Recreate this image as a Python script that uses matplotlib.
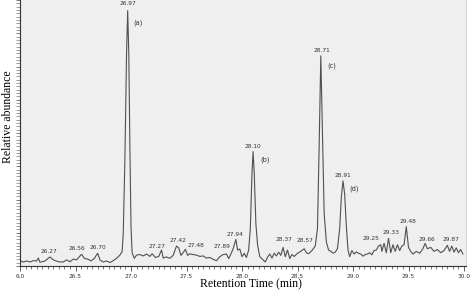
import matplotlib
matplotlib.use("Agg")
import matplotlib.pyplot as plt
from matplotlib.ticker import MultipleLocator, FixedLocator

# ---- data ----
time_min = [
    26.00, 26.03, 26.06, 26.09, 26.12, 26.15, 26.165, 26.18, 26.225, 26.27,
    26.30, 26.345, 26.39, 26.42, 26.45, 26.48, 26.51, 26.53, 26.555, 26.58,
    26.61, 26.64, 26.67, 26.70, 26.72, 26.75, 26.78, 26.81, 26.84, 26.87,
    26.90, 26.92, 26.93, 26.945, 26.96, 26.97, 26.98, 26.99, 27.00, 27.01,
    27.03, 27.05, 27.08, 27.11, 27.14, 27.17, 27.19, 27.22, 27.25, 27.275,
    27.29, 27.32, 27.35, 27.38, 27.41, 27.43, 27.45, 27.47, 27.49, 27.51,
    27.53, 27.56, 27.59, 27.62, 27.65, 27.68, 27.71, 27.74, 27.77, 27.80,
    27.83, 27.86, 27.88, 27.90, 27.92, 27.945, 27.96, 27.98, 28.00, 28.02,
    28.04, 28.06, 28.075, 28.09, 28.10, 28.11, 28.125, 28.14, 28.16, 28.19,
    28.21, 28.23, 28.25, 28.27, 28.29, 28.31, 28.33, 28.35, 28.37, 28.39,
    28.41, 28.43, 28.45, 28.47, 28.50, 28.53, 28.56, 28.58, 28.60, 28.63,
    28.66, 28.68, 28.695, 28.71, 28.725, 28.74, 28.76, 28.78, 28.80, 28.82,
    28.84, 28.86, 28.88, 28.895, 28.91, 28.925, 28.94, 28.955, 28.97, 28.99,
    29.01, 29.03, 29.05, 29.07, 29.09, 29.11, 29.13, 29.15, 29.17, 29.19,
    29.21, 29.23, 29.25, 29.26, 29.28, 29.30, 29.32, 29.34, 29.36, 29.38,
    29.40, 29.42, 29.44, 29.46, 29.48, 29.50, 29.52, 29.54, 29.57, 29.60,
    29.63, 29.65, 29.67, 29.70, 29.73, 29.76, 29.79, 29.82, 29.85, 29.87,
    29.89, 29.91, 29.93, 29.95, 29.97, 29.99,
]
abundance = [
    2.0, 1.5, 1.9, 1.5, 2.0, 1.9, 3.0, 1.4, 1.9, 3.4,
    2.3, 1.6, 1.5, 2.3, 1.6, 2.6, 2.3, 3.3, 4.4, 2.8,
    2.6, 1.9, 2.9, 4.8, 2.3, 1.5, 1.9, 1.3, 2.0, 2.9,
    4.1, 5.4, 12.0, 40.0, 80.0, 96.0, 80.0, 45.0, 15.0, 5.0,
    2.9, 4.1, 4.3, 3.8, 4.5, 3.6, 4.6, 3.2, 3.6, 6.0,
    3.0, 3.4, 2.9, 4.0, 7.5, 6.8, 4.0, 5.0, 6.3, 4.0,
    4.6, 4.3, 4.1, 3.6, 3.8, 3.0, 3.2, 2.5, 2.0, 3.5,
    4.3, 4.5, 2.8, 4.5, 6.5, 10.0, 6.0, 6.4, 3.5, 4.8,
    3.2, 6.0, 14.0, 35.0, 43.0, 35.0, 16.0, 8.0, 3.5, 2.3,
    1.5, 3.3, 4.5, 3.0, 4.8, 3.8, 5.2, 4.0, 7.0, 3.5,
    6.0, 2.8, 4.3, 3.6, 4.8, 5.5, 6.5, 5.0, 4.6, 5.8,
    7.5, 14.0, 45.0, 79.0, 50.0, 20.0, 9.0, 6.0, 5.5, 4.8,
    5.2, 6.5, 14.0, 26.0, 32.0, 27.0, 15.0, 6.0, 3.5, 5.8,
    4.5, 5.3, 4.8, 4.5, 3.7, 4.3, 4.5, 5.0, 4.2, 5.8,
    6.0, 7.5, 8.0, 5.5, 8.5, 5.0, 10.4, 5.0, 8.0, 5.5,
    8.0, 5.8, 7.5, 8.0, 14.8, 7.0, 5.5, 4.5, 5.5, 4.8,
    6.5, 8.5, 6.5, 7.0, 5.5, 6.2, 5.0, 5.8, 7.8, 5.5,
    7.5, 5.2, 6.8, 5.0, 6.2, 4.5,
]

# retention-time labels: text, anchor time, anchor abundance
rt_labels = ["26.97", "28.10", "28.71", "28.91", "26.27", "26.56", "26.70",
             "27.27", "27.42", "27.48", "27.89", "27.94", "28.37", "28.57",
             "29.25", "29.33", "29.48", "29.66", "29.87"]
rt_label_t = [26.973, 28.10, 28.72, 28.91, 26.26, 26.51, 26.70,
              27.23, 27.42, 27.59, 27.82, 27.94, 28.38, 28.57,
              29.16, 29.34, 29.50, 29.67, 29.88]
rt_label_y = [98.5, 45.1, 81.2, 34.2, 5.4, 6.4, 6.9,
              7.3, 9.5, 7.6, 7.3, 12.0, 9.8, 9.5,
              10.4, 12.5, 16.7, 10.0, 9.8]

# compound letters
compound_labels = ["(a)", "(b)", "(c)", "(d)"]
compound_t = [27.063, 28.207, 28.808, 29.006]
compound_y = [91.6, 39.8, 75.3, 29.2]

x_ticks = [26.0, 26.5, 27.0, 27.5, 28.0, 28.5, 29.0, 29.5, 30.0]
x_tick_labels = ["6.0", "26.5", "27.0", "27.5", "28.0", "28.5", "29.0", "29.5", "30.0"]

# ---- figure ----
W, H = 474, 294
fig = plt.figure(figsize=(W / 100, H / 100), dpi=100)
ax = fig.add_axes([20 / W, 28 / H, 446 / W, 266 / H])
ax.set_facecolor("#efefef")

ax.plot(time_min, abundance, color="#505050", lw=0.8)

ax.set_xlim(26.0, 30.018)
ax.set_ylim(0, 100)

lab_color = "#333333"
for txt, t, y in zip(rt_labels, rt_label_t, rt_label_y):
    ax.text(t, y, txt, fontsize=4.2, color=lab_color, ha="center", va="center",
            family="DejaVu Sans")
for txt, t, y in zip(compound_labels, compound_t, compound_y):
    ax.text(t, y, txt, fontsize=4.8, color=lab_color, ha="center", va="center",
            family="DejaVu Sans")

ax.xaxis.set_major_locator(FixedLocator(x_ticks))
ax.set_xticklabels(x_tick_labels)
ax.xaxis.set_minor_locator(MultipleLocator(0.05))
ax.yaxis.set_major_locator(MultipleLocator(12.5))
ax.yaxis.set_minor_locator(MultipleLocator(1.25))
ax.set_yticklabels([])
ax.tick_params(axis="x", which="major", length=3.5, width=0.6, color="#444444",
               labelsize=4.2, labelcolor="#333333", pad=2)
ax.tick_params(axis="x", which="minor", length=2, width=0.5, color="#444444")
ax.tick_params(axis="y", which="major", length=3, width=0.5, color="#444444", left=True)
ax.tick_params(axis="y", which="minor", length=3, width=0.4, color="#555555")

for s in ("left", "bottom"):
    ax.spines[s].set_color("#333333")
    ax.spines[s].set_linewidth(0.8)
ax.spines["top"].set_visible(False)
ax.spines["right"].set_color("#cccccc")
ax.spines["right"].set_linewidth(0.6)

ax.set_xlabel("Retention Time (min)", family="Liberation Serif", fontsize=8.5)
ax.xaxis.set_label_coords(231 / 446, -12.5 / 266)
ax.set_ylabel("Relative abundance", family="Liberation Serif", fontsize=8.5)
ax.yaxis.set_label_coords(-6 / 446, 149 / 266)

fig.savefig("out.png", dpi=100)
